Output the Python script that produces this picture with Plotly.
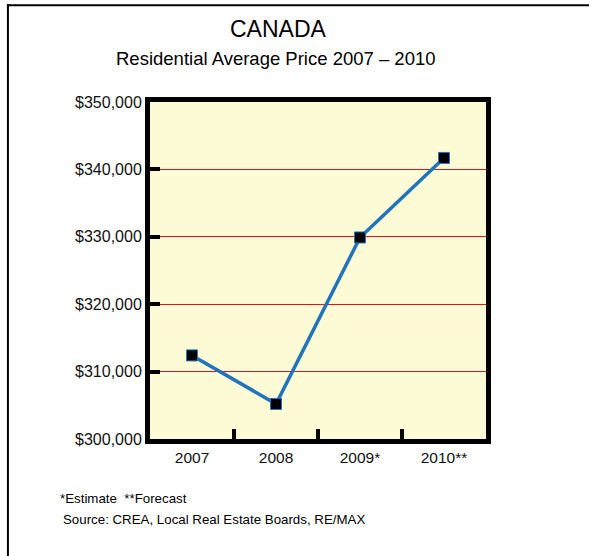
import plotly.graph_objects as go

years = ['2007', '2008', '2009*', '2010**']
avg_price = [312400, 305200, 329900, 341700]
y_ticks = [300000, 310000, 320000, 330000, 340000, 350000]
y_tick_labels = ['$300,000', '$310,000', '$320,000', '$330,000', '$340,000', '$350,000']

W, H = 589, 556
L, R, T, B = 149.5, 486.5, 102, 439.5
FONT = 'Liberation Sans, Arial, Helvetica, sans-serif'


def px(x):
    return (x - L) / (R - L)


def py(y):
    return (B - y) / (B - T)


fig = go.Figure(
    go.Scatter(
        x=years,
        y=avg_price,
        mode='lines+markers',
        line={'color': '#1F74BC', 'width': 3.5},
        marker={'symbol': 'square', 'size': 11, 'color': 'black',
                'line': {'color': '#1F74BC', 'width': 1}},
        showlegend=False,
        hoverinfo='x+y',
    )
)

fig.update_layout(
    width=W,
    height=H,
    margin={'l': L, 'r': W - R, 't': T, 'b': H - B, 'pad': 0},
    paper_bgcolor='white',
    plot_bgcolor='#FDFAD6',
    font={'family': FONT, 'color': '#111111', 'size': 14},
    xaxis={
        'type': 'category',
        'range': [-0.5, 3.5],
        'showline': True, 'linecolor': 'black', 'linewidth': 5, 'mirror': True,
        'showgrid': False, 'zeroline': False,
        'ticks': 'inside', 'tickson': 'boundaries', 'ticklen': 10,
        'tickwidth': 4, 'tickcolor': 'black',
        'tickfont': {'size': 15.5},
    },
    yaxis={
        'range': [300000, 350000],
        'tickvals': y_ticks, 'ticktext': y_tick_labels,
        'showline': True, 'linecolor': 'black', 'linewidth': 5, 'mirror': True,
        'showgrid': True, 'gridcolor': '#E3141B', 'gridwidth': 1,
        'zeroline': False,
        'ticks': 'inside', 'ticklen': 10, 'tickwidth': 4, 'tickcolor': 'black',
        'tickfont': {'size': 16},
    },
    shapes=[
        # frame lines at top and left of the page
        {'type': 'line', 'xref': 'paper', 'yref': 'paper',
         'x0': px(6), 'x1': px(600), 'y0': py(5), 'y1': py(5),
         'line': {'color': 'black', 'width': 2}},
        {'type': 'line', 'xref': 'paper', 'yref': 'paper',
         'x0': px(7), 'x1': px(7), 'y0': py(4), 'y1': py(570),
         'line': {'color': 'black', 'width': 2}},
    ],
    annotations=[
        {'text': 'CANADA', 'xref': 'paper', 'yref': 'paper',
         'x': px(278), 'y': py(29), 'xanchor': 'center', 'yanchor': 'middle',
         'showarrow': False, 'font': {'size': 23, 'color': 'black'}},
        {'text': 'Residential Average Price 2007 – 2010', 'xref': 'paper', 'yref': 'paper',
         'x': px(276), 'y': py(58), 'xanchor': 'center', 'yanchor': 'middle',
         'showarrow': False, 'font': {'size': 18.5, 'color': 'black'}},
        {'text': '*Estimate  **Forecast', 'xref': 'paper', 'yref': 'paper',
         'x': px(57), 'y': py(499), 'xanchor': 'left', 'yanchor': 'middle',
         'showarrow': False, 'font': {'size': 13.3, 'color': 'black'}},
        {'text': 'Source: CREA, Local Real Estate Boards, RE/MAX', 'xref': 'paper', 'yref': 'paper',
         'x': px(60), 'y': py(520), 'xanchor': 'left', 'yanchor': 'middle',
         'showarrow': False, 'font': {'size': 13.3, 'color': 'black'}},
    ],
)

# drop the default page margin so the figure sits at the window's top-left corner
fig.write_html(
    'out.html',
    config={'displayModeBar': False},
    post_script="document.body.style.margin='0';",
)
